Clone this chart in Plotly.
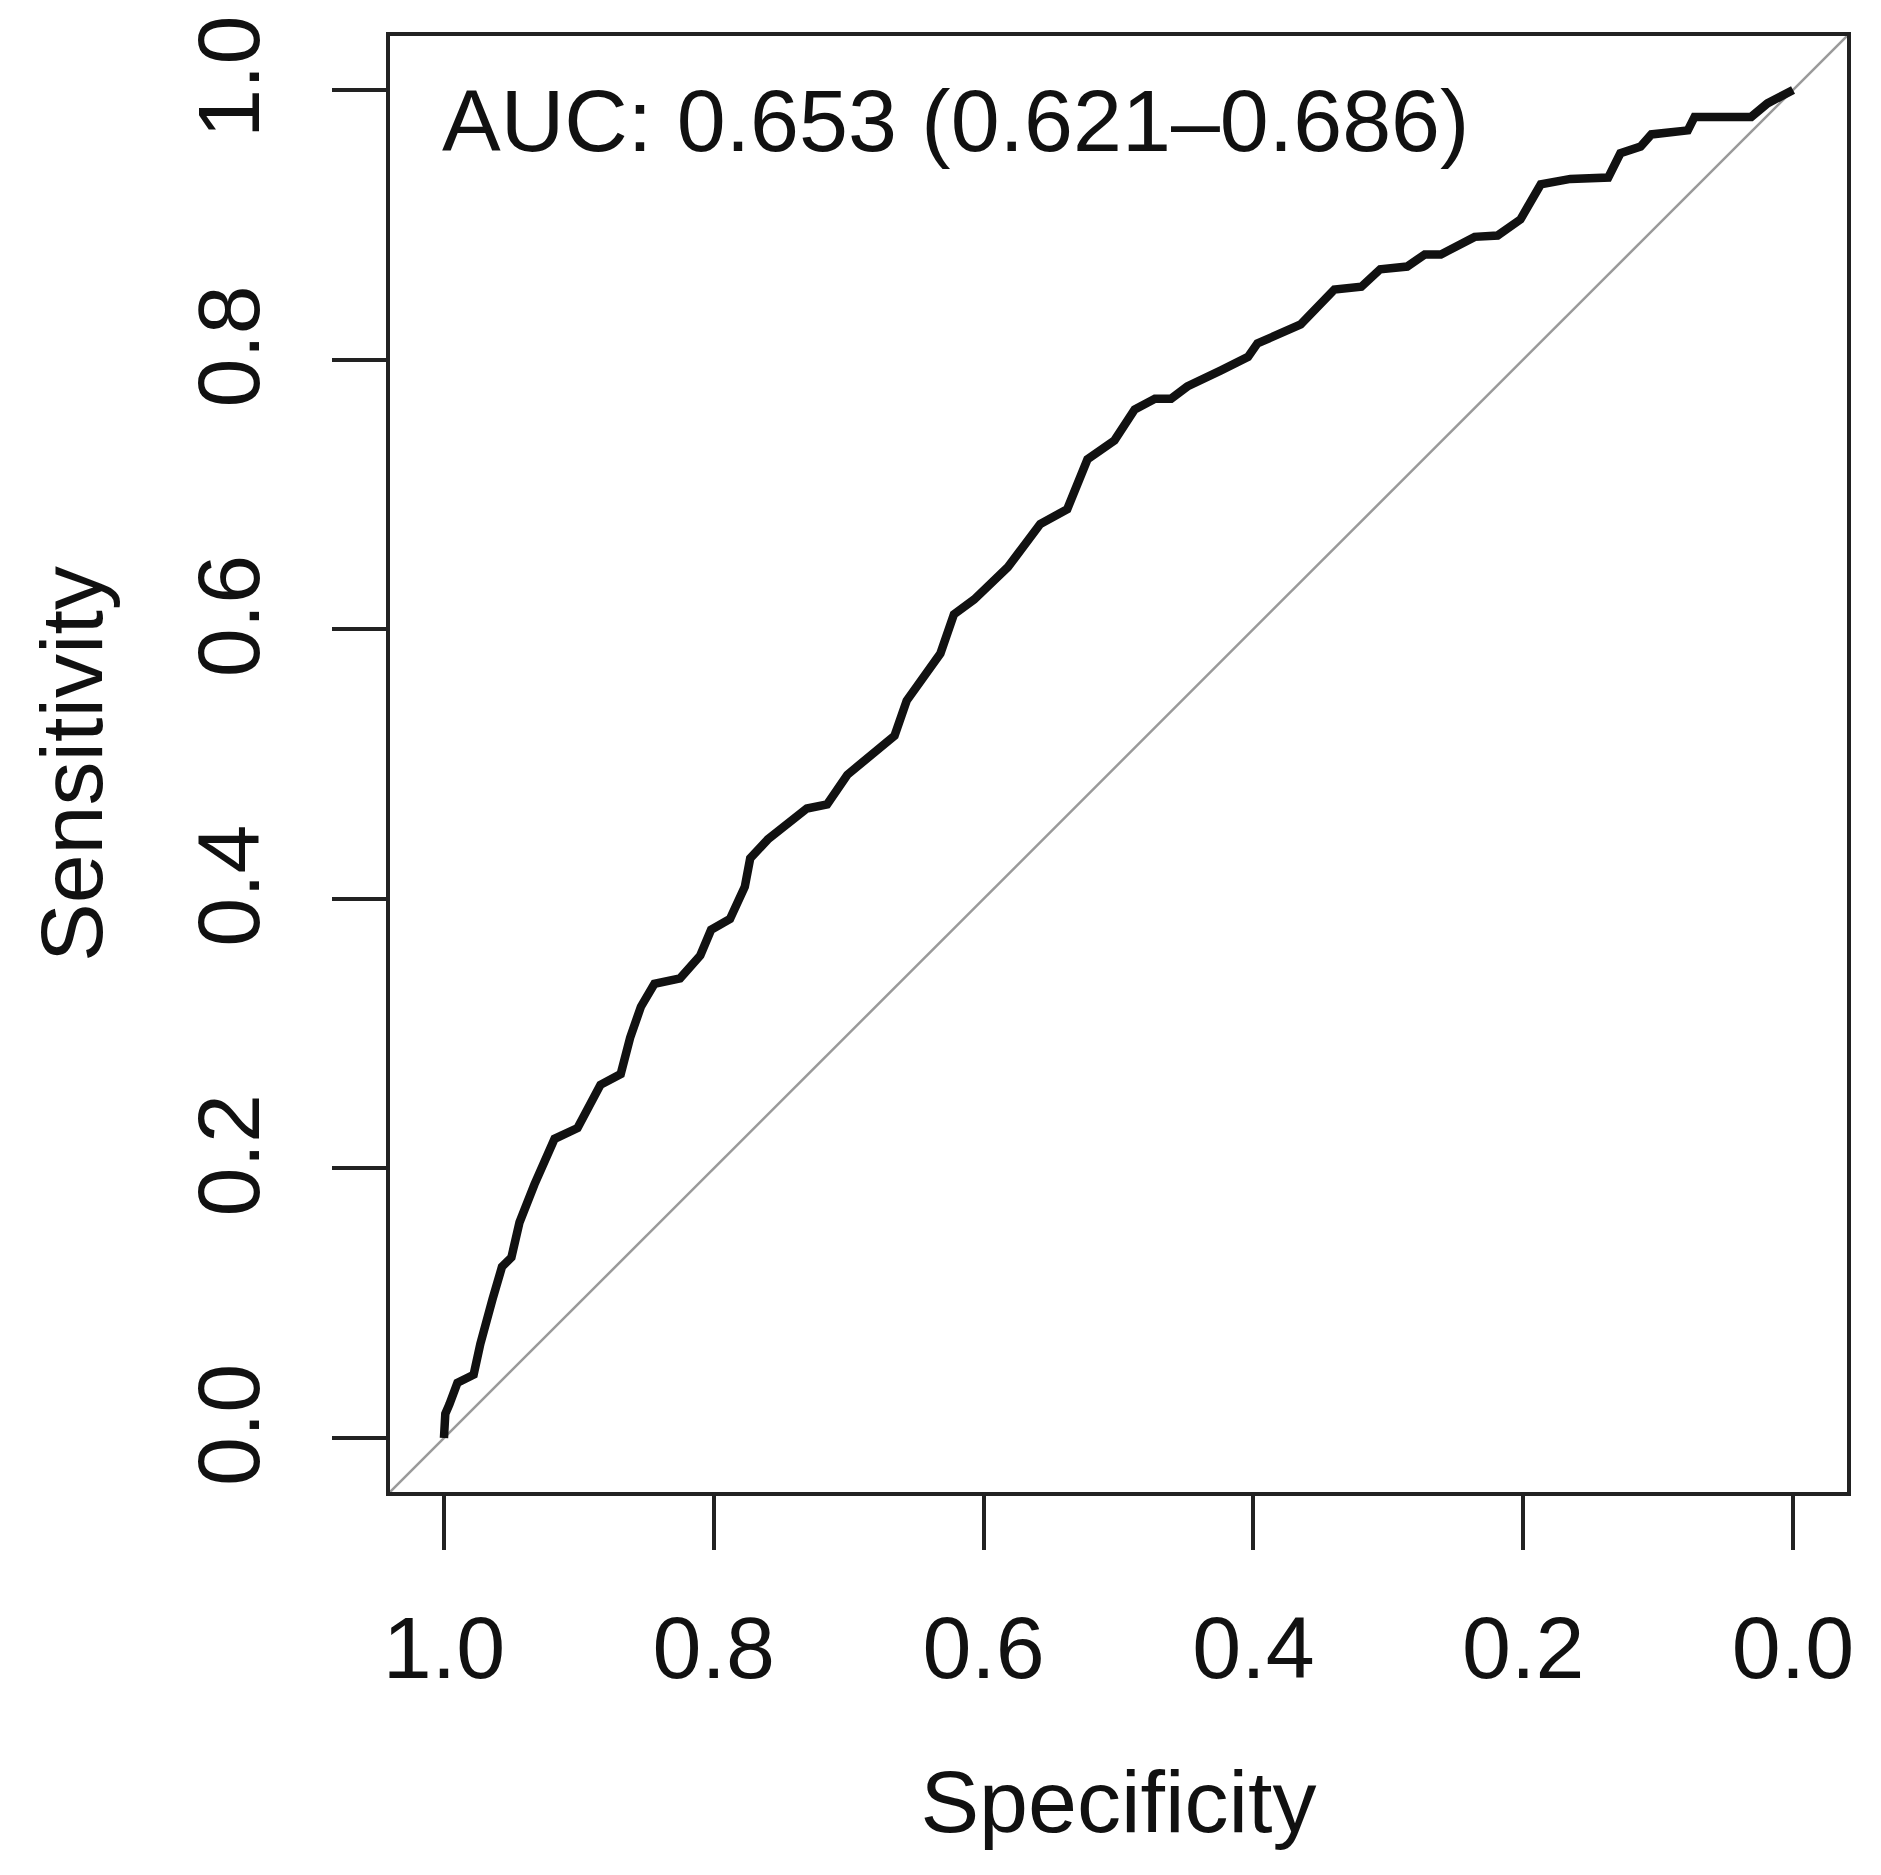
import plotly.graph_objects as go

# ROC curve points (specificity, sensitivity)
specificity = [1.000, 0.999, 0.996, 0.990, 0.978, 0.973, 0.964, 0.957, 0.950, 0.944,
               0.933, 0.918, 0.901, 0.884, 0.869, 0.862, 0.854, 0.844, 0.825, 0.810,
               0.802, 0.788, 0.777, 0.773, 0.760, 0.731, 0.716, 0.701, 0.666, 0.657,
               0.632, 0.622, 0.607, 0.582, 0.558, 0.538, 0.523, 0.503, 0.488, 0.473,
               0.461, 0.449, 0.424, 0.404, 0.397, 0.365, 0.340, 0.320, 0.306, 0.286,
               0.273, 0.261, 0.236, 0.219, 0.202, 0.194, 0.187, 0.165, 0.137, 0.128,
               0.113, 0.105, 0.078, 0.073, 0.031, 0.019, 0.000]
sensitivity = [0.000, 0.018, 0.025, 0.041, 0.047, 0.070, 0.103, 0.127, 0.134, 0.160,
               0.188, 0.222, 0.230, 0.262, 0.270, 0.297, 0.320, 0.337, 0.341, 0.358,
               0.377, 0.385, 0.409, 0.430, 0.444, 0.467, 0.470, 0.492, 0.521, 0.547,
               0.582, 0.611, 0.622, 0.646, 0.678, 0.689, 0.726, 0.740, 0.763, 0.771,
               0.771, 0.780, 0.792, 0.802, 0.812, 0.826, 0.852, 0.854, 0.867, 0.869,
               0.878, 0.878, 0.891, 0.892, 0.904, 0.918, 0.930, 0.934, 0.935, 0.953,
               0.958, 0.967, 0.970, 0.980, 0.980, 0.990, 1.000]

tick_vals = [1.0, 0.8, 0.6, 0.4, 0.2, 0.0]
tick_text = ["1.0", "0.8", "0.6", "0.4", "0.2", "0.0"]
auc_label = "AUC: 0.653 (0.621\u20130.686)"

x_range = [1.04, -0.04]
y_range = [-0.04, 1.04]

FONT = "Liberation Sans, Arial, Helvetica, sans-serif"
FS = 88

fig = go.Figure()

# chance diagonal (abline across the full plotting region)
fig.add_shape(type="line", xref="x", yref="y",
              x0=x_range[0], y0=y_range[0], x1=x_range[1], y1=y_range[1],
              line=dict(color="#9a9a9a", width=2.5), layer="below")

fig.add_trace(go.Scatter(x=specificity, y=sensitivity, mode="lines",
                         line=dict(color="#111111", width=8.5),
                         showlegend=False, hoverinfo="skip"))

fig.add_annotation(x=1.0, y=0.977, xref="x", yref="y", text=auc_label,
                   showarrow=False, xanchor="left", yanchor="middle", xshift=-4,
                   font=dict(family=FONT, size=FS, color="#111111"))

axis_common = dict(
    showgrid=False, zeroline=False,
    showline=True, linecolor="#222222", linewidth=4, mirror=True,
    ticks="outside", ticklen=54, tickwidth=3.5, tickcolor="#222222",
    tickvals=tick_vals, ticktext=tick_text,
    tickfont=dict(family=FONT, size=FS, color="#111111"),
    title_font=dict(family=FONT, size=FS, color="#111111"),
)

fig.update_xaxes(range=x_range, autorange=False, ticklabelstandoff=22,
                 title_text="Specificity", title_standoff=76, **axis_common)
fig.update_yaxes(range=y_range, autorange=False, tickangle=-90, ticklabelstandoff=38,
                 title_text="Sensitivity", title_standoff=48, **axis_common)

fig.update_layout(
    width=1881, height=1875,
    margin=dict(l=382, r=42, t=28, b=391, autoexpand=False),
    paper_bgcolor="white", plot_bgcolor="white",
)

fig.write_html("out.html")
